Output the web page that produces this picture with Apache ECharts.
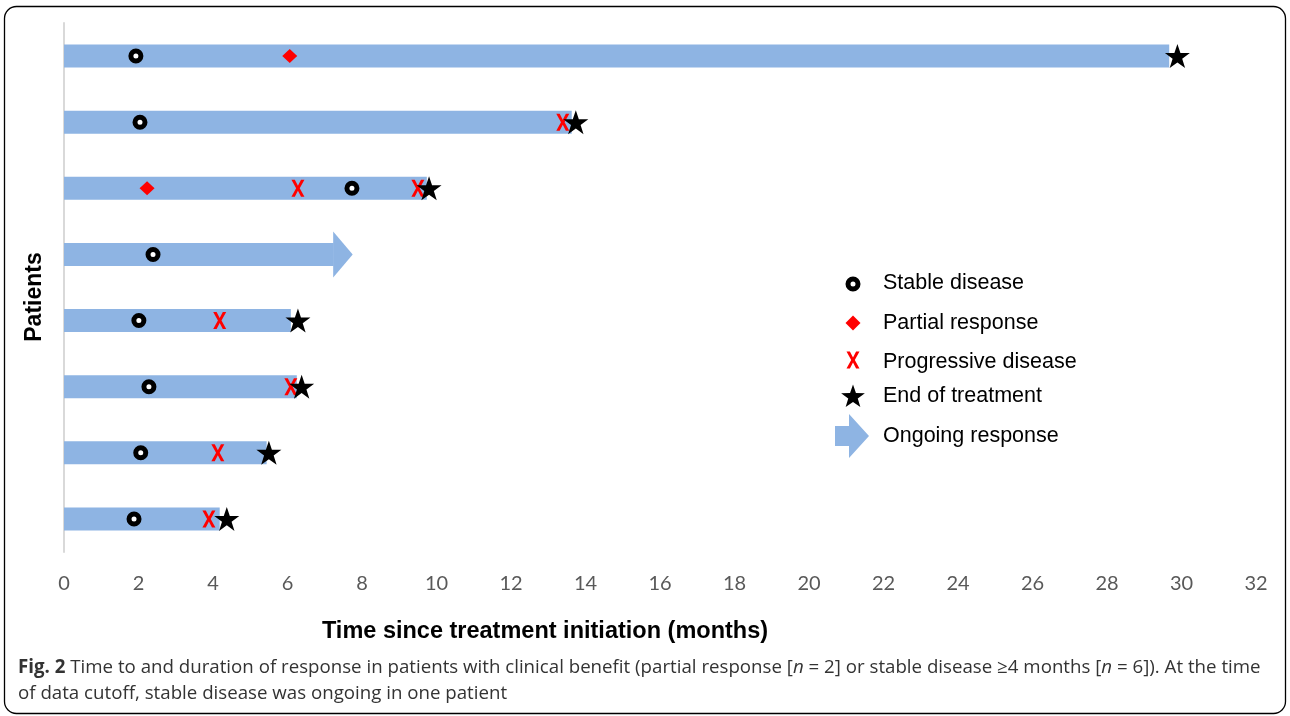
<!DOCTYPE html>
<html>
<head>
<meta charset="utf-8">
<script src="https://cdn.jsdelivr.net/npm/echarts@6/dist/echarts.min.js"></script>
<style>
html,body{margin:0;padding:0;background:#fff;}
#chart{width:1290px;height:716px;}
</style>
</head>
<body>
<div id="chart"></div>
<script>
// ---- data ----
const patients = ['Patient 1','Patient 2','Patient 3','Patient 4','Patient 5','Patient 6','Patient 7','Patient 8'];
const durations = [29.67, 13.63, 9.74, 7.24, 6.09, 6.25, 5.44, 4.18];
const ongoingPatient = ['Patient 4'];
const ongoingShaftEnd = [7.24];
const ongoingTip = [7.75];
const stableDisease = [[1.93,'Patient 1'],[2.04,'Patient 2'],[7.73,'Patient 3'],[2.39,'Patient 4'],[2.01,'Patient 5'],[2.28,'Patient 6'],[2.06,'Patient 7'],[1.88,'Patient 8']];
const partialResponse = [[6.06,'Patient 1'],[2.23,'Patient 3']];
const progressiveDisease = [[13.39,'Patient 2'],[6.28,'Patient 3'],[9.5,'Patient 3'],[4.18,'Patient 5'],[6.09,'Patient 6'],[4.13,'Patient 7'],[3.89,'Patient 8']];
const endOfTreatment = [[29.89,'Patient 1'],[13.74,'Patient 2'],[9.8,'Patient 3'],[6.28,'Patient 5'],[6.38,'Patient 6'],[5.5,'Patient 7'],[4.37,'Patient 8']];
const xTicks = {min: 0, max: 32, interval: 2};
const legendLabels = ['Stable disease','Partial response','Progressive disease','End of treatment','Ongoing response'];

// ---- styles ----
const BAR = '#8EB4E3';
const RED = '#FF0000';
const starPath = 'path://M12,0 L14.9,8.6 L24,8.6 L16.6,14 L19.4,22.8 L12,17.4 L4.6,22.8 L7.4,14 L0,8.6 L9.1,8.6 Z';
const xPath = 'path://M0,0 L3.4,0 L6.5,6.4 L9.6,0 L13,0 L8.3,9 L13,18 L9.6,18 L6.5,11.6 L3.4,18 L0,18 L4.7,9 Z';

function starPts(cx, cy, R, r) {
  const p = [];
  for (let i = 0; i < 10; i++) {
    const a = -Math.PI / 2 + i * Math.PI / 5;
    const rad = i % 2 === 0 ? R : r;
    p.push([cx + rad * Math.cos(a), cy + rad * Math.sin(a)]);
  }
  return p;
}
function xPts(cx, cy, w, h) {
  const base = [[0,0],[3.4,0],[6.5,6.4],[9.6,0],[13,0],[8.3,9],[13,18],[9.6,18],[6.5,11.6],[3.4,18],[0,18],[4.7,9]];
  return base.map(q => [cx - w/2 + q[0]*w/13, cy - h/2 + q[1]*h/18]);
}

const chart = echarts.init(document.getElementById('chart'), null, {renderer: 'canvas'});
const legendFont = {fontFamily: '"Liberation Sans", Arial, sans-serif', fontSize: 21.5, fill: '#000'};
const legendY = [283, 323, 362, 396, 436];
const capFont = '"Open Sans", sans-serif';
const graphics = [
  {type: 'rect', shape: {x: 4.5, y: 6.5, width: 1281, height: 707, r: 12}, style: {fill: 'none', stroke: '#000', lineWidth: 1.3}, z: 0},
  {type: 'text', x: 35, y: 297, rotation: Math.PI / 2, style: {text: 'Patients', font: 'bold 23px "Liberation Sans", Arial, sans-serif', fill: '#000', textAlign: 'center', textVerticalAlign: 'middle'}},
  {type: 'text', x: 545, y: 632, style: {text: 'Time since treatment initiation (months)', font: 'bold 23.5px "Liberation Sans", Arial, sans-serif', fill: '#000', textAlign: 'center', textVerticalAlign: 'middle'}},
  {type: 'text', x: 18, y: 655, style: {
    text: '{b|Fig. 2} Time to and duration of response in patients with clinical benefit (partial response [{i|n} = 2] or stable disease ≥4 months [{i|n} = 6]). At the time\nof data cutoff, stable disease was ongoing in one patient',
    font: '18.7px ' + capFont, fill: '#333', lineHeight: 26,
    rich: {b: {font: 'bold 18.7px ' + capFont, fill: '#333'}, i: {font: 'italic 18.7px ' + capFont, fill: '#333'}}
  }},
  // legend symbols
  {type: 'circle', shape: {cx: 853, cy: legendY[0] + 1, r: 5}, style: {fill: '#fff', stroke: '#000', lineWidth: 5}},
  {type: 'polygon', shape: {points: [[853, legendY[1] - 7.5], [860.5, legendY[1]], [853, legendY[1] + 7.5], [845.5, legendY[1]]]}, style: {fill: RED}},
  {type: 'polygon', shape: {points: xPts(853, legendY[2] - 2, 13, 17)}, style: {fill: RED}},
  {type: 'polygon', shape: {points: starPts(853, legendY[3] + 1, 12.5, 5)}, style: {fill: '#000'}},
  {type: 'polygon', shape: {points: [[835, 426], [849, 426], [849, 414], [869, 436], [849, 458], [849, 446], [835, 446]]}, style: {fill: BAR}}
];
legendLabels.forEach((t, i) => {
  graphics.push({type: 'text', x: 883, y: legendY[i], style: Object.assign({text: t, textVerticalAlign: 'middle'}, legendFont)});
});

const option = {
  animation: false,
  backgroundColor: '#fff',
  grid: {left: 64, right: 34, top: 23, bottom: 164, containLabel: false},
  xAxis: {
    type: 'value', min: xTicks.min, max: xTicks.max, interval: xTicks.interval,
    axisLine: {show: false}, axisTick: {show: false}, splitLine: {show: false},
    axisLabel: {color: '#595959', fontSize: 20, fontFamily: 'Lato, "Open Sans", sans-serif', margin: 22}
  },
  yAxis: {
    type: 'category', data: patients, inverse: true,
    axisLine: {show: true, lineStyle: {color: '#D9D9D9', width: 2}},
    axisTick: {show: false}, axisLabel: {show: false}, splitLine: {show: false}
  },
  series: [
    {type: 'bar', data: durations, barWidth: 23, itemStyle: {color: BAR}, z: 1, silent: true},
    {type: 'custom', z: 1, silent: true,
      data: ongoingPatient.map((p, i) => [ongoingShaftEnd[i], ongoingTip[i], p]),
      encode: {x: [0, 1], y: 2},
      renderItem: function (params, api) {
        const s = api.coord([api.value(0), api.value(2)]);
        const t = api.coord([api.value(1), api.value(2)]);
        return {type: 'polygon', shape: {points: [[s[0] - 0.5, s[1] - 23], [t[0], t[1]], [s[0] - 0.5, s[1] + 23]]}, style: {fill: BAR}};
      }
    },
    {type: 'scatter', name: 'Stable disease', data: stableDisease, symbol: 'circle', symbolSize: 10, z: 3,
      itemStyle: {color: '#fff', borderColor: '#000', borderWidth: 5, opacity: 1}},
    {type: 'scatter', name: 'Partial response', data: partialResponse, symbol: 'diamond', symbolSize: [15, 14], z: 3,
      itemStyle: {color: RED, opacity: 1}},
    {type: 'scatter', name: 'Progressive disease', data: progressiveDisease, symbol: xPath, symbolSize: [13, 17], z: 4,
      itemStyle: {color: RED, opacity: 1}},
    {type: 'scatter', name: 'End of treatment', data: endOfTreatment, symbol: starPath, symbolSize: [25, 24], z: 5,
      itemStyle: {color: '#000', opacity: 1}}
  ],
  graphic: graphics
};
chart.setOption(option);
</script>
</body>
</html>
